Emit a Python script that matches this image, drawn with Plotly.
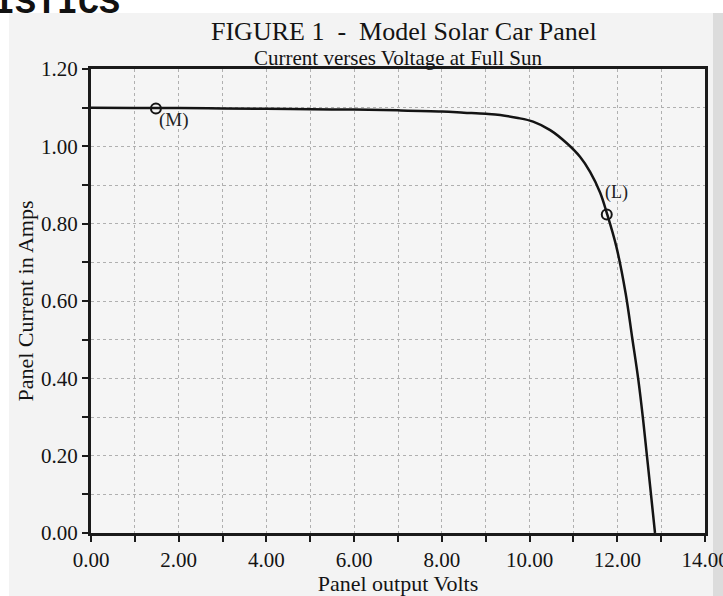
import plotly.graph_objects as go

# Data
volts = [0.0, 1.0, 2.0, 3.0, 4.0, 5.0, 6.0, 7.0, 8.0, 8.5, 9.0, 9.33, 9.70,
         10.08, 10.47, 10.85, 11.15, 11.38, 11.61, 11.76, 11.98, 12.19, 12.34,
         12.48, 12.59, 12.67, 12.75, 12.86]
amps = [1.100, 1.099, 1.099, 1.098, 1.097, 1.096, 1.095, 1.093, 1.090, 1.087,
        1.084, 1.081, 1.074, 1.064, 1.042, 1.008, 0.973, 0.934, 0.880, 0.828,
        0.740, 0.620, 0.505, 0.396, 0.292, 0.206, 0.120, 0.000]

marker_volts = [1.48, 11.76]
marker_amps = [1.098, 0.824]
marker_labels = ["(M)", "(L)"]

x_ticks = [0, 2, 4, 6, 8, 10, 12, 14]
x_tick_text = ["0.00", "2.00", "4.00", "6.00", "8.00", "10.00", "12.00", "14.00"]
y_ticks = [0.0, 0.2, 0.4, 0.6, 0.8, 1.0, 1.2]
y_tick_text = ["0.00", "0.20", "0.40", "0.60", "0.80", "1.00", "1.20"]

W, H = 723, 596
L, R, T, B = 91, 18, 69, 63
PW, PH = W - L - R, H - T - B

def px_x(p):
    return (p - L) / PW

def px_y(p):
    return 1 - (p - T) / PH

FONT = "Liberation Serif"
INK = "#141414"
GRID = "#b0b0b0"

fig = go.Figure()
fig.add_trace(go.Scatter(
    x=volts, y=amps, mode="lines",
    line=dict(color=INK, width=2.5, shape="spline", smoothing=1.0),
    hoverinfo="skip", showlegend=False))
fig.add_trace(go.Scatter(
    x=marker_volts, y=marker_amps, mode="markers",
    marker=dict(symbol="circle-open", size=10, color=INK,
                line=dict(width=2, color=INK)),
    showlegend=False))

# marker labels
fig.add_annotation(x=marker_volts[0], y=marker_amps[0], text=marker_labels[0],
                   showarrow=False, xanchor="left", yanchor="top",
                   xshift=1, yshift=1,
                   font=dict(family=FONT, size=19, color="#222"))
fig.add_annotation(x=marker_volts[1], y=marker_amps[1], text=marker_labels[1],
                   showarrow=False, xanchor="center", yanchor="bottom",
                   xshift=10, yshift=9,
                   font=dict(family=FONT, size=18, color="#222"))

# titles
fig.add_annotation(xref="paper", yref="paper", x=px_x(404), y=px_y(31),
                   text="FIGURE 1  -  Model Solar Car Panel", showarrow=False,
                   xanchor="center", yanchor="middle",
                   font=dict(family=FONT, size=26, color=INK))
fig.add_annotation(xref="paper", yref="paper", x=px_x(398), y=px_y(58),
                   text="Current verses Voltage at Full Sun", showarrow=False,
                   xanchor="center", yanchor="middle",
                   font=dict(family=FONT, size=21, color=INK))
# cut-off heading from the page above
fig.add_annotation(xref="paper", yref="paper", x=px_x(-8), y=px_y(26),
                   text="<b>ISTICS</b>", showarrow=False,
                   xanchor="left", yanchor="bottom",
                   font=dict(family="Liberation Mono", size=35, color="#111"))

axis_common = dict(
    showline=True, linecolor="#1a1a1a", linewidth=3, mirror=True,
    ticks="outside", ticklen=6, tickwidth=2, tickcolor="#1a1a1a",
    showgrid=True, gridcolor=GRID, gridwidth=1, griddash="dot",
    zeroline=False, automargin=False,
    tickfont=dict(family=FONT, size=21, color=INK),
)

fig.update_xaxes(
    range=[0, 14], tickvals=x_ticks, ticktext=x_tick_text,
    ticklabeloverflow="allow",
    minor=dict(dtick=1, showgrid=True, gridcolor=GRID, griddash="dot",
               ticks="outside", ticklen=6, tickwidth=2, tickcolor="#1a1a1a"),
    title=dict(text="Panel output Volts", standoff=4,
               font=dict(family=FONT, size=22, color=INK)),
    **axis_common)
fig.update_yaxes(
    range=[0, 1.2], tickvals=y_ticks, ticktext=y_tick_text,
    minor=dict(dtick=0.1, showgrid=True, gridcolor=GRID, griddash="dot",
               ticks="outside", ticklen=6, tickwidth=2, tickcolor="#1a1a1a"),
    title=dict(text="Panel Current in Amps", standoff=2,
               font=dict(family=FONT, size=22, color=INK)),
    **axis_common)

# page texture: white strip at the top-left, shadow on the right edge
fig.add_shape(type="rect", xref="paper", yref="paper", layer="below",
              x0=px_x(0), x1=px_x(W), y0=px_y(13), y1=px_y(0),
              fillcolor="white", line=dict(width=0))
fig.add_shape(type="rect", xref="paper", yref="paper", layer="below",
              x0=px_x(0), x1=px_x(9), y0=px_y(H), y1=px_y(0),
              fillcolor="white", line=dict(width=0))
fig.add_shape(type="rect", xref="paper", yref="paper", layer="below",
              x0=px_x(713), x1=px_x(W), y0=px_y(H), y1=px_y(13),
              fillcolor="#dcdcdc", line=dict(width=0))

fig.update_layout(
    width=W, height=H,
    margin=dict(l=L, r=R, t=T, b=B, autoexpand=False),
    paper_bgcolor="#f3f3f3", plot_bgcolor="#f5f5f5",
    showlegend=False)

fig.write_html(
    "out.html",
    config={"displayModeBar": False},
    post_script="document.body.style.margin='0';document.body.style.overflow='hidden';")
